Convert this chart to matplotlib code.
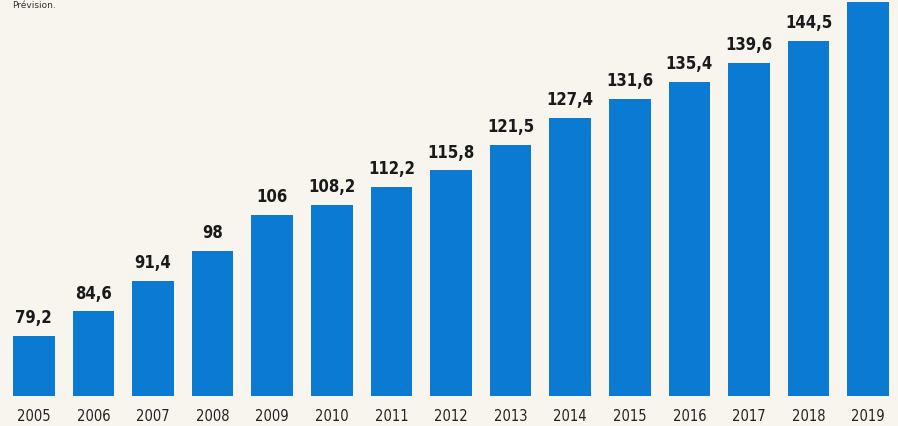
import matplotlib.pyplot as plt

annees = ['2005', '2006', '2007', '2008', '2009', '2010', '2011', '2012',
          '2013', '2014', '2015', '2016', '2017', '2018', '2019']
valeurs = [79.2, 84.6, 91.4, 98, 106, 108.2, 112.2, 115.8,
           121.5, 127.4, 131.6, 135.4, 139.6, 144.5, 153]
etiquettes = ['79,2', '84,6', '91,4', '98', '106', '108,2', '112,2', '115,8',
              '121,5', '127,4', '131,6', '135,4', '139,6', '144,5', '']

fond = '#f7f5ee'
bleu = '#0a7ad2'

fig = plt.figure(figsize=(8.98, 4.27), dpi=100, facecolor=fond)
ax = fig.add_axes([4 / 898, 30 / 427, 894 / 898, 397 / 427])
ax.set_facecolor(fond)

x = range(len(annees))
ax.bar(x, valeurs, width=0.7, color=bleu)
ax.set_xlim(-0.5, len(annees) - 0.5)
ax.set_ylim(65.9, 153.7)

for i, (v, t) in enumerate(zip(valeurs, etiquettes)):
    if t:
        ax.annotate(t, (i, v), xytext=(0, 7), textcoords='offset points',
                    ha='center', va='bottom', fontsize=12, fontweight='bold',
                    family='DejaVu Sans', fontstretch='condensed', color='#1a1a1a')
    ax.annotate(annees[i], (i, 65.9), xytext=(0, -14), textcoords='offset points',
                ha='center', va='center', fontsize=10.5,
                family='DejaVu Sans', fontstretch='condensed', color='#222222',
                annotation_clip=False)

for s in ax.spines.values():
    s.set_visible(False)
ax.set_xticks([])
ax.set_yticks([])

# note en haut a gauche (coupee dans l'original)
fig.text(12 / 898, 1 - 1 / 427, 'Prévision.', fontsize=6.5, va='top', ha='left', color='#333333')

fig.savefig('out.png', dpi=100, facecolor=fond)
